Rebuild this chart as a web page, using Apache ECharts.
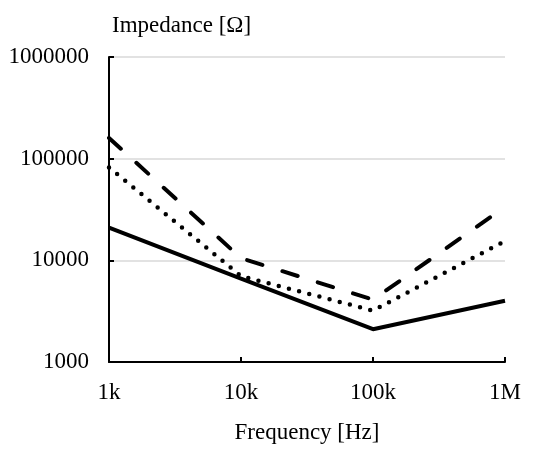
<!DOCTYPE html>
<html style="height: 100%">
<head>
    <meta charset="utf-8">
    <title>Impedance</title>
    <script src="https://cdn.jsdelivr.net/npm/echarts@6/dist/echarts.min.js"></script>
</head>
<body style="height: 100%; margin: 0; background: #fff">
<div id="main" style="width: 541px; height: 450px"></div>

<script type="text/javascript">
    // frequencies (Hz) and impedance values (ohm)
    var freqs = [1000, 10000, 100000, 1000000];
    var xTickLabels = ['1k', '10k', '100k', '1M'];
    var solidVals = [21000, 6600, 2100, 4000];
    var dottedVals = [82000, 7000, 3200, 15500];
    var dashedVals = [160000, 10500, 4100, 33500];

    function pairs(vals) {
        var out = [];
        for (var i = 0; i < freqs.length; i++) {
            out.push([freqs[i], vals[i]]);
        }
        return out;
    }

    var font = 'Liberation Serif';
    var myChart = echarts.init(document.getElementById('main'));

    var option = {
        backgroundColor: '#fff',
        animation: false,
        title: {
            text: 'Impedance [\u03A9]',
            left: 112,
            top: 14,
            padding: 0,
            textStyle: {fontFamily: font, fontSize: 23, fontWeight: 'normal', color: '#000'}
        },
        grid: {left: 109, right: 36, top: 57, bottom: 88},
        xAxis: {
            type: 'log',
            logBase: 10,
            min: 1000,
            max: 1000000,
            name: 'Frequency [Hz]',
            nameLocation: 'middle',
            nameGap: 59,
            nameTextStyle: {fontFamily: font, fontSize: 23, color: '#000'},
            axisLine: {lineStyle: {color: '#000', width: 2}},
            axisTick: {inside: true, length: 5, lineStyle: {color: '#000', width: 2}},
            axisLabel: {
                margin: 19,
                fontFamily: font,
                fontSize: 23,
                color: '#000',
                formatter: function (v) {
                    var idx = Math.round(Math.log10(v)) - 3;
                    return xTickLabels[idx] || '';
                }
            },
            splitLine: {show: false}
        },
        yAxis: {
            type: 'log',
            logBase: 10,
            min: 1000,
            max: 1000000,
            axisLine: {show: true, lineStyle: {color: '#000', width: 2}},
            axisTick: {show: true, inside: true, length: 5, lineStyle: {color: '#000', width: 2}},
            axisLabel: {
                margin: 20,
                fontFamily: font,
                fontSize: 23,
                color: '#000',
                formatter: function (v) {
                    return String(Math.round(v));
                }
            },
            splitLine: {show: true, lineStyle: {color: '#d9d9d9', width: 1.5}}
        },
        series: [
            {
                name: 'solid',
                type: 'line',
                symbol: 'none',
                data: pairs(solidVals),
                lineStyle: {color: '#000', width: 4, type: 'solid'}
            },
            {
                name: 'dotted',
                type: 'line',
                symbol: 'none',
                data: pairs(dottedVals),
                lineStyle: {color: '#000', width: 4.5, type: [0, 10.5], cap: 'round'}
            },
            {
                name: 'dashed',
                type: 'line',
                symbol: 'none',
                data: pairs(dashedVals),
                lineStyle: {color: '#000', width: 4, type: [16, 21], cap: 'round'}
            }
        ]
    };
    myChart.setOption(option, true);
</script>
</body>
</html>
